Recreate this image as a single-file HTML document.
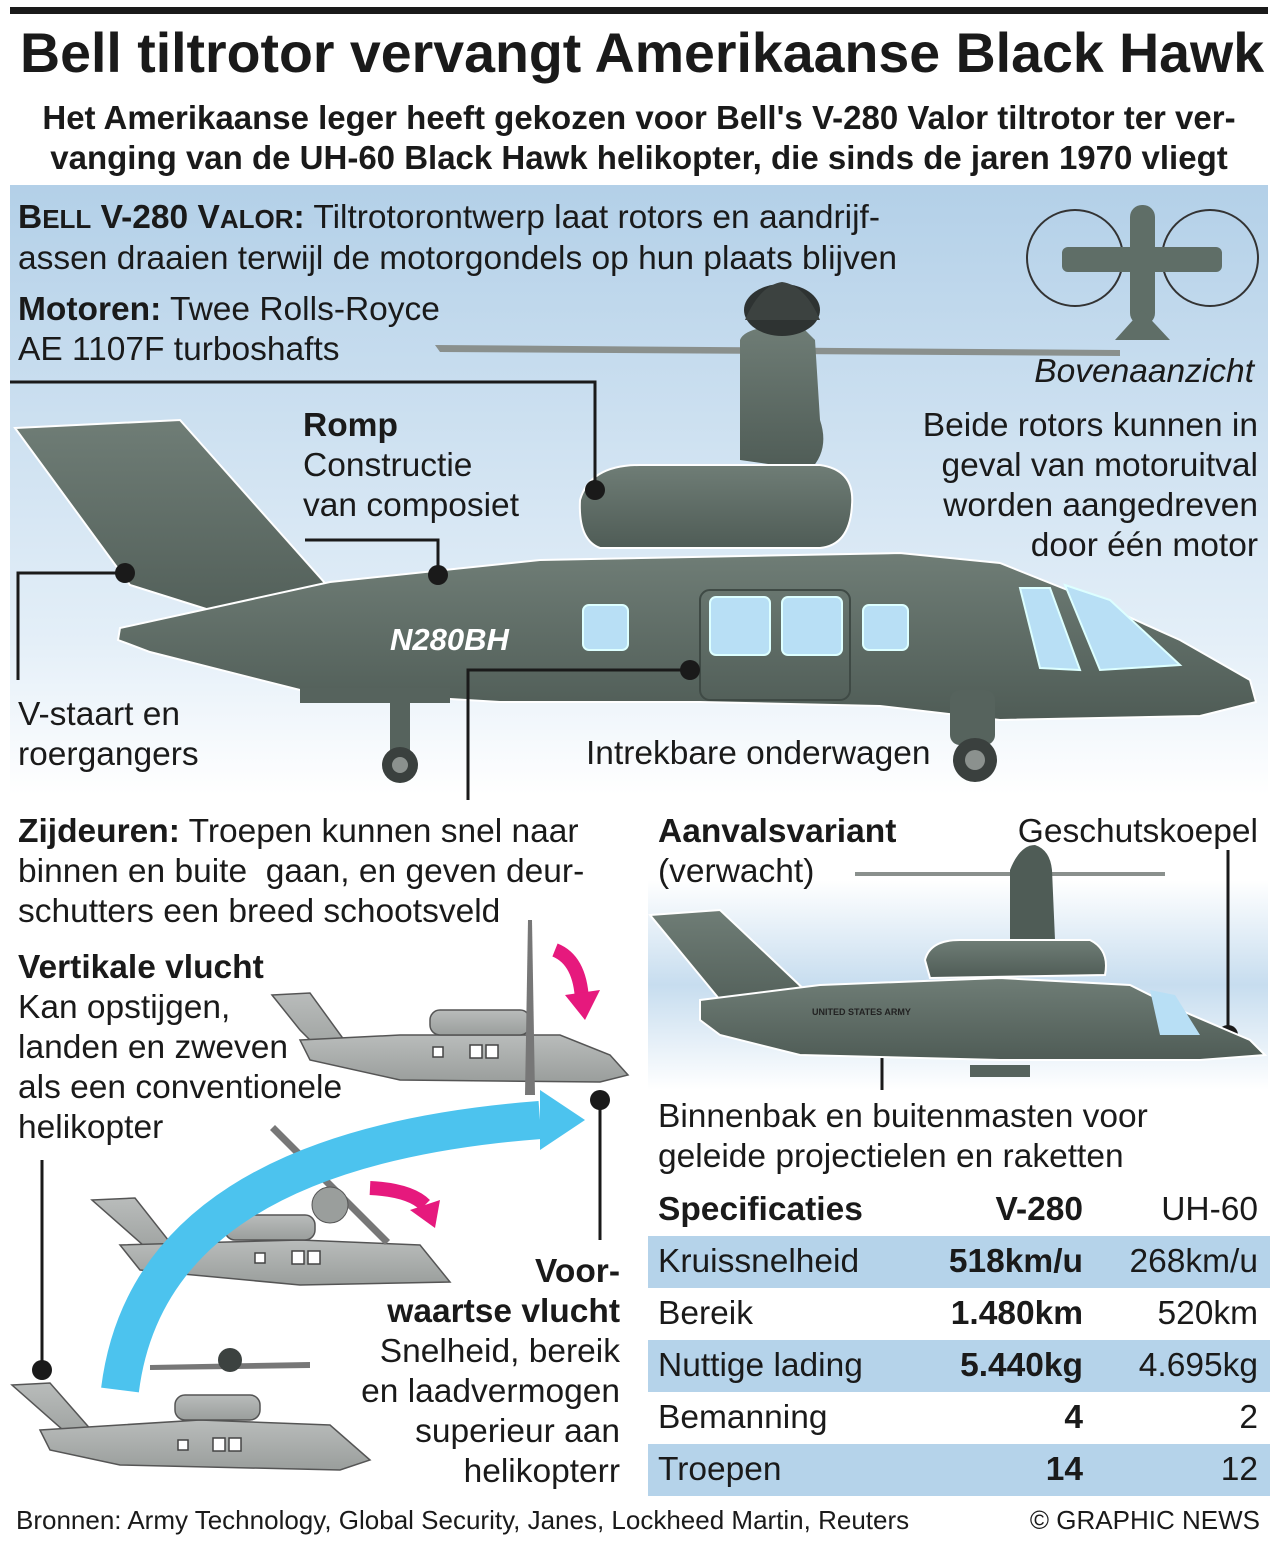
<!DOCTYPE html>
<html><head><meta charset="utf-8"><style>
body{margin:0;width:1278px;height:1550px;position:relative;background:#fff;font-family:"Liberation Sans",sans-serif;color:#1a1a1a;overflow:hidden}
.t{position:absolute;white-space:nowrap;font-size:33.5px;line-height:40px}
b{font-weight:bold}
.r{text-align:right}
</style></head><body>
<svg width="1278" height="1550" style="position:absolute;left:0;top:0">
<defs>
<linearGradient id="sky" x1="0" y1="0" x2="0" y2="1"><stop offset="0" stop-color="#b3d0e8"/><stop offset="0.75" stop-color="#e4eff8"/><stop offset="1" stop-color="#ffffff"/></linearGradient>
<linearGradient id="sky2" x1="0" y1="0" x2="0" y2="1"><stop offset="0" stop-color="#ffffff"/><stop offset="0.5" stop-color="#c7ddef"/><stop offset="1" stop-color="#ffffff"/></linearGradient>
<linearGradient id="body" x1="0" y1="0" x2="0" y2="1"><stop offset="0" stop-color="#6f7d76"/><stop offset="1" stop-color="#4f5c56"/></linearGradient>
<linearGradient id="gr" x1="0" y1="0" x2="0" y2="1"><stop offset="0" stop-color="#b9bcbb"/><stop offset="1" stop-color="#9a9e9c"/></linearGradient>
</defs>
<rect x="10" y="7" width="1258" height="7" fill="#1a1a1a"/>
<rect x="10" y="185" width="1258" height="610" fill="url(#sky)"/>
<rect x="648" y="880" width="620" height="210" fill="url(#sky2)"/>
<polygon points="435,345 1120,350 1120,356 440,352" fill="#8a908d"/>
<path d="M740,460 L740,340 Q745,325 800,325 L815,340 L820,420 Q830,450 810,470 Z" fill="url(#body)"/>
<ellipse cx="782" cy="310" rx="38" ry="26" fill="#2e3332"/>
<path d="M745,320 Q760,285 782,282 Q805,285 820,320 Z" fill="#3c4240"/>
<path d="M15,428 L180,420 L340,600 L305,640 L130,585 Z" fill="url(#body)" stroke="#fff" stroke-width="2"/>
<path d="M120,628 L330,582 L540,560 L900,553 L1000,563 L1080,595 L1180,640 L1250,680 L1256,702 L1200,716 L1000,720 L880,706 L700,702 L500,702 L300,690 L150,652 L118,640 Z" fill="url(#body)" stroke="#fff" stroke-width="2"/>
<path d="M580,500 Q590,465 640,465 L820,465 Q855,470 852,505 Q850,545 820,548 L600,548 Q578,540 580,500 Z" fill="url(#body)" stroke="#fff" stroke-width="2"/>
<rect x="300" y="688" width="150" height="15" fill="#56635d"/>
<rect x="390" y="700" width="20" height="50" fill="#56635d"/>
<circle cx="400" cy="765" r="18" fill="#3a403e"/><circle cx="400" cy="765" r="8" fill="#8b918e"/>
<rect x="950" y="690" width="45" height="55" rx="10" fill="#56635d"/>
<circle cx="975" cy="760" r="22" fill="#3a403e"/><circle cx="975" cy="760" r="10" fill="#8b918e"/>
<rect x="700" y="590" width="150" height="110" rx="10" fill="none" stroke="#3f4a45" stroke-width="2"/>
<rect x="583" y="605" width="45" height="45" rx="6" fill="#b8dff5" stroke="#dff" stroke-width="2"/>
<rect x="710" y="597" width="60" height="58" rx="6" fill="#b8dff5" stroke="#dff" stroke-width="2"/>
<rect x="782" y="597" width="60" height="58" rx="6" fill="#b8dff5" stroke="#dff" stroke-width="2"/>
<rect x="863" y="605" width="45" height="45" rx="6" fill="#b8dff5" stroke="#dff" stroke-width="2"/>
<path d="M1020,588 L1050,588 L1080,670 L1040,668 Z" fill="#b8dff5" stroke="#dff" stroke-width="2"/>
<path d="M1065,585 L1110,600 L1180,665 L1100,670 Z" fill="#b8dff5" stroke="#dff" stroke-width="2"/>
<g stroke="#1a1a1a" stroke-width="3" fill="none">
<polyline points="10,382 595,382 595,490"/>
<polyline points="305,540 438,540 438,575"/>
<polyline points="18,680 18,573 125,573"/>
<polyline points="468,800 468,670 690,670"/>
<polyline points="882,1090 882,1048 965,1048"/>
<polyline points="1228,850 1228,1035"/>
<polyline points="600,1100 600,1240"/>
<polyline points="42,1160 42,1370"/>
</g>
<g fill="#1a1a1a"><circle cx="595" cy="490" r="10"/><circle cx="438" cy="575" r="10"/><circle cx="125" cy="573" r="10"/><circle cx="690" cy="670" r="10"/><circle cx="965" cy="1046" r="10"/><circle cx="1228" cy="1035" r="10"/><circle cx="600" cy="1100" r="10"/><circle cx="42" cy="1370" r="10"/></g>
<g fill="#5f6e67"><circle cx="1075" cy="258" r="48" fill="none" stroke="#333" stroke-width="2"/><circle cx="1210" cy="258" r="48" fill="none" stroke="#333" stroke-width="2"/>
<rect x="1062" y="247" width="160" height="25" rx="6"/><rect x="1130" y="205" width="25" height="120" rx="12"/><polygon points="1142,310 1115,340 1170,340"/></g>
<polygon points="855,872 1165,872 1165,876 855,876" fill="#8a908d"/>
<path d="M1010,945 L1010,870 Q1020,845 1035,845 Q1050,850 1052,870 L1055,940 Z" fill="#4f5c56"/>
<path d="M650,915 L720,910 L810,995 L790,1020 L720,1000 Z" fill="url(#body)" stroke="#fff" stroke-width="2"/>
<path d="M700,1000 L820,985 L1000,978 L1130,985 L1180,1010 L1250,1040 L1265,1055 L1200,1060 L1000,1060 L800,1055 L720,1035 L700,1020 Z" fill="url(#body)" stroke="#fff" stroke-width="2"/>
<path d="M925,960 Q930,940 960,940 L1090,940 Q1110,950 1105,975 L930,978 Z" fill="url(#body)" stroke="#fff" stroke-width="2"/>
<rect x="970" y="1065" width="60" height="12" fill="#56635d"/>
<path d="M1150,990 L1175,995 L1200,1035 L1160,1035 Z" fill="#b8dff5"/>
<g fill="url(#gr)" stroke="#555" stroke-width="1.5">
<path d="M272,995 L310,993 L355,1055 L330,1060 L300,1030 Z"/>
<path d="M300,1040 L400,1035 L560,1035 L610,1055 L628,1075 L600,1082 L400,1080 L310,1060 Z"/>
<rect x="430" y="1010" width="100" height="25" rx="10"/>
<path d="M92,1200 L135,1198 L180,1255 L160,1260 Z"/>
<path d="M120,1245 L300,1240 L420,1245 L450,1282 L300,1285 L140,1270 Z"/>
<rect x="225" y="1215" width="90" height="25" rx="10"/>
<path d="M12,1385 L50,1383 L100,1440 L80,1445 Z"/>
<path d="M40,1430 L200,1420 L330,1425 L370,1460 L340,1470 L120,1465 L50,1450 Z"/>
<rect x="175" y="1395" width="85" height="25" rx="10"/>
</g>
<g fill="#fff" stroke="#444" stroke-width="1.5">
<rect x="433" y="1047" width="10" height="10"/><rect x="470" y="1045" width="12" height="13"/><rect x="486" y="1045" width="12" height="13"/><rect x="255" y="1253" width="10" height="10"/><rect x="292" y="1251" width="12" height="13"/><rect x="308" y="1251" width="12" height="13"/><rect x="178" y="1440" width="10" height="10"/><rect x="213" y="1438" width="12" height="13"/><rect x="229" y="1438" width="12" height="13"/></g>
<polygon points="528,920 532,920 535,1095 525,1095" fill="#777"/>
<polygon points="270,1130 275,1125 390,1240 385,1245" fill="#777"/>
<polygon points="150,1365 310,1362 310,1368 150,1370" fill="#777"/>
<circle cx="230" cy="1360" r="12" fill="#3c4240"/>
<circle cx="330" cy="1205" r="18" fill="#9a9e9c" stroke="#555"/>
<path d="M120,1390 Q150,1150 540,1120" stroke="#4cc3ee" stroke-width="38" fill="none"/>
<polygon points="540,1090 585,1120 540,1150" fill="#4cc3ee"/>
<path d="M555,950 Q580,960 582,1000" stroke="#e6197d" stroke-width="14" fill="none"/><polygon points="565,995 600,990 585,1020" fill="#e6197d"/>
<path d="M370,1188 Q410,1190 425,1205" stroke="#e6197d" stroke-width="14" fill="none"/><polygon points="410,1210 440,1200 435,1228" fill="#e6197d"/>
<rect x="648" y="1236" width="622" height="52" fill="#b5d3ea"/>
<rect x="648" y="1340" width="622" height="52" fill="#b5d3ea"/>
<rect x="648" y="1444" width="622" height="52" fill="#b5d3ea"/>
</svg>
<div class="t" style="left:20px;top:21px;font-size:55.5px;line-height:64px;font-weight:bold">Bell tiltrotor vervangt Amerikaanse Black Hawk</div>
<div class="t" style="left:0;width:1278px;text-align:center;top:98px;font-size:33px;line-height:40px;font-weight:bold">Het Amerikaanse leger heeft gekozen voor Bell's V-280 Valor tiltrotor ter ver-<br>vanging van de UH-60 Black Hawk helikopter, die sinds de jaren 1970 vliegt</div>
<div class="t" style="left:18px;top:198px"><b>B<span style="font-size:26px">ELL</span> V-280 V<span style="font-size:26px">ALOR</span>:</b> Tiltrotorontwerp laat rotors en aandrijf-<br>assen draaien terwijl de motorgondels op hun plaats blijven</div>
<div class="t" style="left:18px;top:290px"><b>Motoren:</b> Twee Rolls-Royce<br>AE 1107F turboshafts</div>
<div class="t" style="right:24px;top:352px;font-style:italic">Bovenaanzicht</div>
<div class="t r" style="right:20px;top:406px">Beide rotors kunnen in<br>geval van motoruitval<br>worden aangedreven<br>door één motor</div>
<div class="t" style="left:303px;top:406px"><b>Romp</b><br>Constructie<br>van composiet</div>
<div class="t" style="left:390px;top:620px;color:#fff;font-weight:bold;font-style:italic;font-size:31px">N280BH</div>
<div class="t" style="left:18px;top:695px">V-staart en<br>roergangers</div>
<div class="t" style="left:586px;top:734px">Intrekbare onderwagen</div>
<div class="t" style="left:18px;top:812px"><b>Zijdeuren:</b> Troepen kunnen snel naar<br>binnen en buite&nbsp; gaan, en geven deur-<br>schutters een breed schootsveld</div>
<div class="t" style="left:18px;top:948px"><b>Vertikale vlucht</b><br>Kan opstijgen,<br>landen en zweven<br>als een conventionele<br>helikopter</div>
<div class="t" style="left:658px;top:812px"><b>Aanvalsvariant</b><br>(verwacht)</div>
<div class="t r" style="right:20px;top:812px">Geschutskoepel</div>
<div class="t" style="left:658px;top:1097px">Binnenbak en buitenmasten voor<br>geleide projectielen en raketten</div>
<div class="t r" style="right:658px;top:1252px"><b>Voor-<br>waartse vlucht</b><br>Snelheid, bereik<br>en laadvermogen<br>superieur aan<br>helikopterr</div>
<div class="t" style="left:658px;top:1190px"><b>Specificaties</b></div>
<div class="t r" style="right:195px;top:1190px"><b>V-280</b></div>
<div class="t r" style="right:20px;top:1190px">UH-60</div>
<div class="t" style="left:658px;top:1236px;line-height:52px">Kruissnelheid<br>Bereik<br>Nuttige lading<br>Bemanning<br>Troepen</div>
<div class="t r" style="right:195px;top:1236px;line-height:52px;font-weight:bold">518km/u<br>1.480km<br>5.440kg<br>4<br>14</div>
<div class="t r" style="right:20px;top:1236px;line-height:52px">268km/u<br>520km<br>4.695kg<br>2<br>12</div>
<div class="t" style="left:16px;top:1505px;font-size:26px;line-height:30px">Bronnen: Army Technology, Global Security, Janes, Lockheed Martin, Reuters</div>
<div class="t r" style="right:18px;top:1505px;font-size:26px;line-height:30px">© GRAPHIC NEWS</div>
<div class="t" style="left:812px;top:1006px;font-size:9px;line-height:12px;color:#222;font-weight:bold">UNITED STATES ARMY</div>
</body></html>
